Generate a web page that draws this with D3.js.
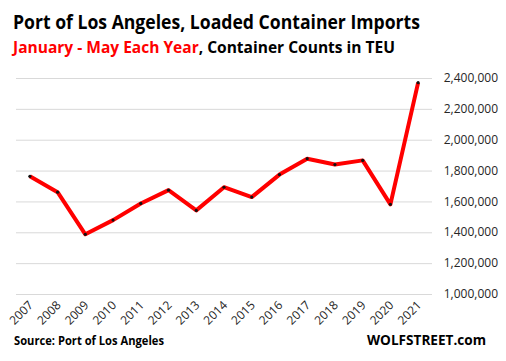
<!DOCTYPE html>
<html>
<head>
<meta charset="utf-8">
<script src="https://d3js.org/d3.v7.min.js"></script>
<style>
  body { margin: 0; background: #fff; }
  text { font-family: "Open Sans", "Liberation Sans", sans-serif; }
</style>
</head>
<body>
<div id="chart"></div>
<script>
// data (Jan-May loaded imports, TEU)
var years = ["2007","2008","2009","2010","2011","2012","2013","2014","2015","2016","2017","2018","2019","2020","2021"];
var imports = [1763000, 1660000, 1387000, 1479000, 1587000, 1673000, 1542000, 1692000, 1628000, 1774000, 1877000, 1839000, 1866000, 1581000, 2370000];
var yTicks = [1000000, 1200000, 1400000, 1600000, 1800000, 2000000, 2200000, 2400000];

var W = 506, H = 361;
var plot = {left: 16, right: 432, top: 78, bottom: 294};

var svg = d3.select("#chart").append("svg")
  .attr("width", W).attr("height", H);

var x = d3.scalePoint()
  .domain(years)
  .range([plot.left, plot.right])
  .padding(0.5);

var y = d3.scaleLinear()
  .domain([1000000, 2400000])
  .range([plot.bottom, plot.top]);

// gridlines
svg.append("g")
  .selectAll("line")
  .data(yTicks)
  .enter().append("line")
    .attr("x1", plot.left).attr("x2", plot.right)
    .attr("y1", function(d) { return y(d) + 0.5; })
    .attr("y2", function(d) { return y(d) + 0.5; })
    .attr("stroke", "#d9d9d9")
    .attr("stroke-width", 1);

// right axis labels
var fmt = d3.format(",");
svg.append("g")
  .selectAll("text")
  .data(yTicks)
  .enter().append("text")
    .attr("x", 498)
    .attr("y", function(d) { return y(d); })
    .attr("dy", "0.35em")
    .attr("text-anchor", "end")
    .style("font-size", "12px")
    .style("fill", "#262626")
    .text(function(d) { return fmt(d); });

// year labels, rotated
svg.append("g")
  .selectAll("text")
  .data(years)
  .enter().append("text")
    .attr("transform", function(d) { return "translate(" + (x(d) + 4) + ",306) rotate(-45)"; })
    .attr("text-anchor", "end")
    .style("font-size", "12px")
    .style("fill", "#262626")
    .text(function(d) { return d; });

// the line
var pts = years.map(function(d, i) { return [x(d), y(imports[i])]; });
svg.append("path")
  .datum(pts)
  .attr("d", d3.line())
  .attr("fill", "none")
  .attr("stroke", "#ff0000")
  .attr("stroke-width", 4)
  .attr("stroke-linejoin", "round");

svg.append("g")
  .selectAll("circle")
  .data(pts)
  .enter().append("circle")
    .attr("cx", function(d) { return d[0]; })
    .attr("cy", function(d) { return d[1]; })
    .attr("r", 1.6)
    .attr("fill", "#111");

// titles
svg.append("text")
  .attr("x", 13).attr("y", 29)
  .attr("textLength", 407)
  .attr("lengthAdjust", "spacingAndGlyphs")
  .style("font-size", "19px")
  .style("font-weight", "bold")
  .style("fill", "#000")
  .text("Port of Los Angeles, Loaded Container Imports");

var sub = svg.append("text")
  .attr("x", 13).attr("y", 53)
  .attr("textLength", 382)
  .attr("lengthAdjust", "spacingAndGlyphs")
  .style("font-size", "15.5px")
  .style("font-weight", "bold");
sub.append("tspan").style("fill", "#ff0000").text("January - May Each Year");
sub.append("tspan").style("fill", "#000").text(", Container Counts in TEU");

// footer
svg.append("text")
  .attr("x", 14).attr("y", 345)
  .attr("textLength", 150)
  .attr("lengthAdjust", "spacingAndGlyphs")
  .style("font-size", "11.5px")
  .style("font-weight", "bold")
  .style("fill", "#000")
  .text("Source: Port of Los Angeles");

svg.append("text")
  .attr("x", 367).attr("y", 345)
  .attr("textLength", 119)
  .attr("lengthAdjust", "spacingAndGlyphs")
  .style("font-size", "14px")
  .style("font-weight", "bold")
  .style("fill", "#000")
  .text("WOLFSTREET.com");
</script>
</body>
</html>
